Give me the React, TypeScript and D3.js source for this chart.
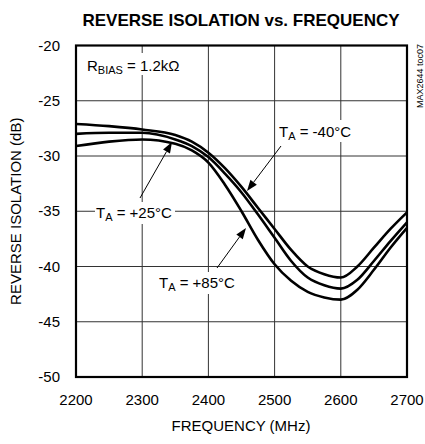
import React from 'react';
import * as d3 from 'd3';

// reverse isolation curves
const FREQ = [2200, 2250, 2300, 2350, 2375, 2400, 2425, 2450, 2475, 2500, 2525, 2550, 2575, 2600, 2625, 2650, 2675, 2700];
const ISO_M40 = [-27.1, -27.3, -27.6, -28.1, -28.7, -29.7, -31.1, -32.8, -34.7, -36.6, -38.5, -40.0, -40.7, -41.0, -40.0, -38.3, -36.6, -35.1];
const ISO_P25 = [-28.0, -27.9, -27.9, -28.5, -29.1, -30.1, -31.6, -33.3, -35.3, -37.4, -39.5, -41.0, -41.7, -42.0, -41.2, -39.5, -37.7, -36.0];
const ISO_P85 = [-29.1, -28.7, -28.5, -28.9, -29.5, -30.6, -32.6, -35.0, -37.6, -39.8, -41.3, -42.3, -42.8, -43.0, -42.1, -40.3, -38.3, -36.5];

const X_TICKS = [2200, 2300, 2400, 2500, 2600, 2700];
const Y_TICKS = [-20, -25, -30, -35, -40, -45, -50];

const W = 425;
const H = 444;
const M = { left: 76, right: 18, top: 45.5, bottom: 67 };
const FONT = '"Liberation Sans Narrow", "Liberation Sans", Arial, sans-serif';

const App: React.FC = () => {
  const x = d3.scaleLinear().domain([2200, 2700]).range([M.left, W - M.right]);
  const y = d3.scaleLinear().domain([-50, -20]).range([H - M.bottom, M.top]);

  const line = d3
    .line<number>()
    .x((_, i) => x(FREQ[i]))
    .y((d) => y(d))
    .curve(d3.curveMonotoneX);

  const series = [ISO_M40, ISO_P25, ISO_P85];

  const arrow = (x1: number, y1: number, x2: number, y2: number) => {
    const a = Math.atan2(y2 - y1, x2 - x1);
    const len = 11;
    const wid = 4;
    const bx = x2 - len * Math.cos(a);
    const by = y2 - len * Math.sin(a);
    const px = -Math.sin(a) * wid;
    const py = Math.cos(a) * wid;
    return (
      <g>
        <line x1={x1} y1={y1} x2={bx} y2={by} stroke="#000" strokeWidth={1} />
        <path d={`M${x2},${y2}L${bx + px},${by + py}L${bx - px},${by - py}Z`} fill="#000" />
      </g>
    );
  };

  return (
    <svg width={W} height={H} style={{ display: 'block', position: 'absolute', left: 0, top: 0 }}>
      <rect width={W} height={H} fill="#fff" />
      <text x={241} y={26} textAnchor="middle" fontFamily={FONT} fontWeight="bold" fontSize={17}>
        REVERSE ISOLATION vs. FREQUENCY
      </text>

      {/* grid */}
      {X_TICKS.slice(1, -1).map((t) => (
        <line key={`gx${t}`} x1={x(t)} x2={x(t)} y1={y(-20)} y2={y(-50)} stroke="#333" strokeWidth={1} />
      ))}
      {Y_TICKS.slice(1, -1).map((t) => (
        <line key={`gy${t}`} x1={x(2200)} x2={x(2700)} y1={y(t)} y2={y(t)} stroke="#333" strokeWidth={1} />
      ))}

      {/* label backgrounds break the grid lines */}
      <rect x={84} y={53} width={76} height={22} fill="#fff" />
      <rect x={276} y={120} width={80} height={22} fill="#fff" />
      <rect x={95} y={202} width={80} height={22} fill="#fff" />
      <rect x={157} y={272} width={82} height={22} fill="#fff" />

      {series.map((s, i) => (
        <path key={i} d={line(s) ?? ''} fill="none" stroke="#000" strokeWidth={2.6} />
      ))}

      <rect
        x={x(2200)}
        y={y(-20)}
        width={x(2700) - x(2200)}
        height={y(-50) - y(-20)}
        fill="none"
        stroke="#000"
        strokeWidth={2.2}
      />

      {/* tick labels */}
      {Y_TICKS.map((t) => (
        <text key={`yl${t}`} x={60} y={y(t) + 5} textAnchor="end" fontFamily={FONT} fontSize={15}>
          {t}
        </text>
      ))}
      {X_TICKS.map((t) => (
        <text key={`xl${t}`} x={x(t)} y={405} textAnchor="middle" fontFamily={FONT} fontSize={15}>
          {t}
        </text>
      ))}

      <text x={241} y={431} textAnchor="middle" fontFamily={FONT} fontSize={15}>
        FREQUENCY (MHz)
      </text>
      <text
        transform={`translate(21,${(y(-20) + y(-50)) / 2}) rotate(-90)`}
        textAnchor="middle"
        fontFamily={FONT}
        fontSize={15}
      >
        REVERSE ISOLATION (dB)
      </text>
      <text
        transform="translate(423,76) rotate(-90)"
        textAnchor="middle"
        fontFamily={FONT}
        fontSize={9}
      >
        MAX2644 toc07
      </text>

      {/* annotations */}
      <text x={87} y={71} fontFamily={FONT} fontSize={15}>
        R<tspan fontSize={11} dy={3}>BIAS</tspan>
        <tspan dy={-3}> = 1.2kΩ</tspan>
      </text>
      <text x={279} y={137} fontFamily={FONT} fontSize={15}>
        T<tspan fontSize={11} dy={3}>A</tspan>
        <tspan dy={-3}> = -40°C</tspan>
      </text>
      <text x={96} y={218} fontFamily={FONT} fontSize={15}>
        T<tspan fontSize={11} dy={3}>A</tspan>
        <tspan dy={-3}> = +25°C</tspan>
      </text>
      <text x={159} y={288} fontFamily={FONT} fontSize={15}>
        T<tspan fontSize={11} dy={3}>A</tspan>
        <tspan dy={-3}> = +85°C</tspan>
      </text>

      {arrow(281, 146, 247, 191)}
      {arrow(140, 198, 172, 142)}
      {arrow(217, 268, 246, 228)}
    </svg>
  );
};

export default App;
